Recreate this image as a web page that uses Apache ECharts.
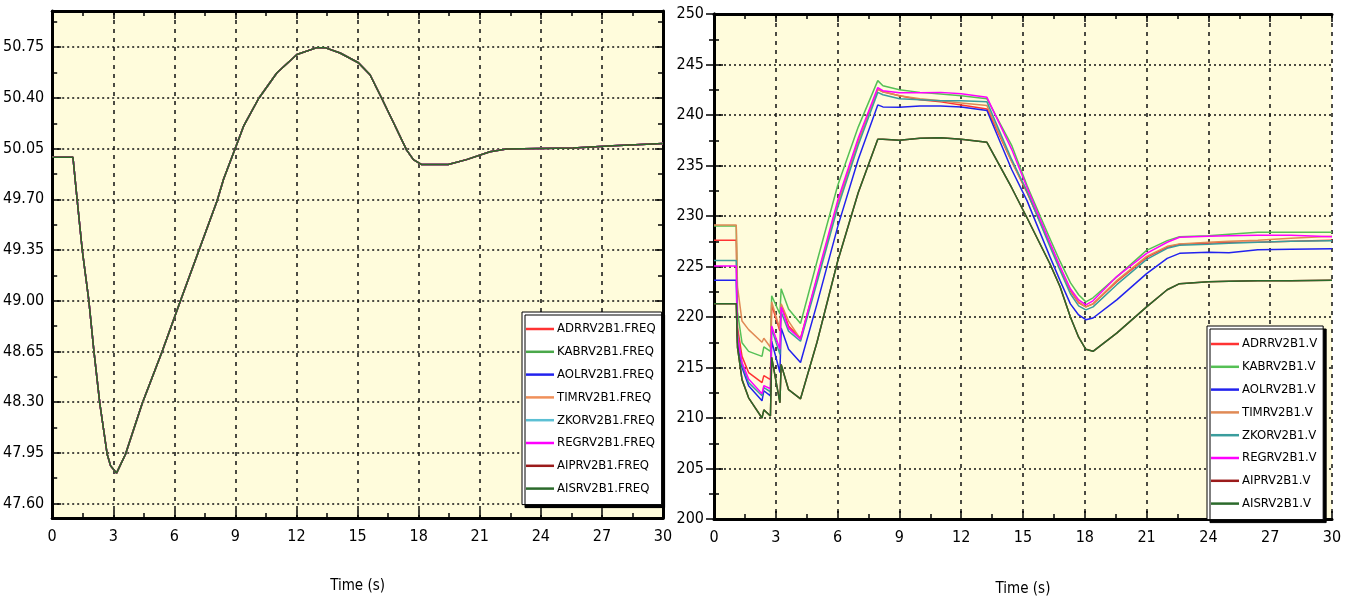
<!DOCTYPE html>
<html>
<head>
<meta charset="utf-8">
<script src="https://cdn.jsdelivr.net/npm/echarts@6/dist/echarts.min.js"></script>
<style>
html,body{margin:0;padding:0;background:#fff;}
#c{width:1349px;height:602px;}
</style>
</head>
<body>
<div id="c"></div>
<script>
// ---------- Data: left chart (frequency) ----------
var namesF = ['ADRRV2B1.FREQ','KABRV2B1.FREQ','AOLRV2B1.FREQ','TIMRV2B1.FREQ','ZKORV2B1.FREQ','REGRV2B1.FREQ','AIPRV2B1.FREQ','AISRV2B1.FREQ'];
var tF = [0, 1.02, 1.23, 1.48, 1.80, 2.05, 2.34, 2.70, 2.87, 3.16, 3.6, 4.42, 5.40, 6.30, 7.20, 8.10, 8.42, 8.96, 9.40, 10.14, 11.04, 12.02, 13.0, 13.4, 14.14, 15.04, 15.61, 16.19, 16.76, 17.41, 17.74, 18.15, 19.45, 20.35, 21.5, 22.3, 25.58, 27.54, 30];
var freq = [49.99, 49.99, 49.69, 49.345, 49.0, 48.65, 48.29, 47.94, 47.86, 47.81, 47.94, 48.29, 48.65, 49.0, 49.345, 49.69, 49.84, 50.04, 50.205, 50.396, 50.574, 50.70, 50.747, 50.747, 50.71, 50.643, 50.56, 50.396, 50.23, 50.04, 49.974, 49.94, 49.94, 49.974, 50.028, 50.048, 50.055, 50.07, 50.085];
var freqTicks = [47.60, 47.95, 48.30, 48.65, 49.00, 49.35, 49.70, 50.05, 50.40, 50.75];
var freqMinor = [47.775, 48.125, 48.475, 48.825, 49.175, 49.525, 49.875, 50.225, 50.575, 50.925];

// ---------- Data: right chart (voltage) ----------
var namesV = ['ADRRV2B1.V','KABRV2B1.V','AOLRV2B1.V','TIMRV2B1.V','ZKORV2B1.V','REGRV2B1.V','AIPRV2B1.V','AISRV2B1.V'];
var tV = [0, 1.08, 1.14, 1.36, 1.68, 2.33, 2.42, 2.74, 2.80, 3.20, 3.26, 3.62, 4.2, 5.0, 6.0, 7.0, 7.95, 8.2, 9.0, 10.0, 11.0, 12.0, 13.25, 14.45, 15.2, 16.3, 16.8, 17.3, 17.7, 18.05, 18.4, 19.55, 21.0, 22.0, 22.6, 24.0, 25.0, 26.4, 28.0, 30];
var adrV = [227.6, 227.6, 219.0, 216.1, 214.5, 213.5, 214.2, 213.8, 221.2, 218.6, 221.2, 219.1, 217.9, 223.8, 231.2, 237.4, 242.55, 242.3, 241.9, 241.5, 241.3, 241.0, 240.6, 235.4, 232.3, 227.2, 224.8, 222.6, 221.4, 221.0, 221.3, 223.5, 225.9, 226.9, 227.2, 227.3, 227.4, 227.4, 227.5, 227.6];
var kabV = [229.0, 229.0, 220.5, 217.45, 216.6, 216.1, 217.05, 216.6, 222.1, 220.3, 222.8, 220.8, 219.35, 225.5, 233.0, 238.8, 243.4, 242.9, 242.5, 242.24, 242.08, 241.9, 241.6, 237.0, 233.0, 227.8, 225.5, 223.4, 222.2, 221.5, 221.9, 223.97, 226.6, 227.56, 227.95, 228.05, 228.2, 228.38, 228.38, 228.38];
var aolV = [223.65, 223.65, 217.5, 215.0, 213.2, 211.7, 212.7, 212.2, 217.6, 214.5, 218.9, 216.8, 215.5, 221.3, 228.9, 235.6, 241.0, 240.8, 240.77, 240.9, 240.9, 240.8, 240.44, 234.6, 231.5, 226.0, 223.6, 221.3, 220.2, 219.73, 219.9, 221.7, 224.3, 225.8, 226.3, 226.4, 226.35, 226.65, 226.7, 226.75];
var timV = [229.1, 229.1, 223.0, 219.6, 218.75, 217.5, 217.9, 217.0, 221.5, 218.8, 221.3, 219.6, 217.8, 223.7, 231.1, 237.3, 242.56, 242.3, 241.9, 241.6, 241.4, 241.2, 240.93, 235.4, 232.5, 227.3, 224.9, 222.7, 221.5, 221.0, 221.3, 223.6, 226.0, 227.0, 227.24, 227.4, 227.5, 227.6, 227.8, 228.0];
var zkoV = [225.6, 225.6, 218.2, 215.3, 213.5, 212.2, 213.0, 212.6, 218.8, 216.3, 220.5, 218.6, 217.6, 223.4, 230.8, 237.0, 242.24, 242.0, 241.6, 241.5, 241.4, 241.4, 241.3, 235.6, 232.4, 227.0, 224.6, 222.3, 221.1, 220.7, 221.0, 223.2, 225.7, 226.8, 227.1, 227.2, 227.3, 227.4, 227.5, 227.56];
var regV = [225.05, 225.05, 218.0, 215.5, 213.85, 212.4, 213.2, 212.9, 219.1, 216.8, 221.0, 218.9, 217.8, 224.0, 231.5, 237.7, 242.72, 242.4, 242.2, 242.2, 242.24, 242.1, 241.75, 236.6, 232.8, 227.4, 225.0, 222.8, 221.7, 221.2, 221.6, 224.0, 226.3, 227.4, 227.9, 228.0, 228.05, 228.1, 228.1, 227.95];
var aipV = [221.3, 221.3, 217.0, 213.8, 212.0, 210.0, 210.8, 210.2, 216.0, 211.5, 215.3, 212.8, 211.9, 217.5, 225.5, 232.3, 237.6, 237.6, 237.5, 237.7, 237.75, 237.6, 237.3, 232.8, 229.8, 225.3, 223.0, 220.0, 218.0, 216.8, 216.6, 218.4, 221.0, 222.7, 223.3, 223.5, 223.55, 223.6, 223.6, 223.65];
var aisV = [221.3, 221.3, 217.0, 213.8, 212.0, 210.0, 210.8, 210.2, 216.0, 211.5, 215.3, 212.8, 211.9, 217.5, 225.5, 232.3, 237.6, 237.6, 237.5, 237.7, 237.75, 237.6, 237.3, 232.8, 229.8, 225.3, 223.0, 220.0, 218.0, 216.8, 216.6, 218.4, 221.0, 222.7, 223.3, 223.5, 223.55, 223.6, 223.6, 223.65];
var valsV = [adrV, kabV, aolV, timV, zkoV, regV, aipV, aisV];

var colorsF = ['#ff3333', '#4aa84a', '#2222ee', '#f0905a', '#5cc0d4', '#ff00ff', '#9b1b1b', '#2b6a2b'];
var colorsV = ['#ff3333', '#55c055', '#2222ee', '#e08a55', '#3a9d9d', '#ff00ff', '#9b1b1b', '#2b6a2b'];

var FONT = "'DejaVu Sans Condensed', 'Liberation Sans Narrow', sans-serif";
var BG = '#FFFCDC';

function pairs(ts, vs) { return ts.map(function (t, i) { return [t, vs[i]]; }); }

var txt = { fontFamily: FONT, fontSize: 16, color: '#000' };

function xAxes(gridIndex, nameGap) {
  return [{
    gridIndex: gridIndex, type: 'value', min: 0, max: 30, interval: 3, position: 'bottom',
    axisLine: { show: true, lineStyle: { color: '#000', width: 3 } },
    axisTick: { show: true, inside: true, length: 8, lineStyle: { color: '#000', width: 1.5 } },
    minorTick: { show: true, splitNumber: 2, length: 5, lineStyle: { color: '#000', width: 1.5 } },
    axisLabel: Object.assign({ margin: 11 }, txt),
    splitLine: { show: true, lineStyle: { color: '#111', width: 1.5, type: [4, 5] } },
    name: 'Time (s)', nameLocation: 'middle', nameGap: nameGap,
    nameTextStyle: { fontFamily: FONT, fontSize: 15, color: '#000' }
  }, {
    gridIndex: gridIndex, type: 'value', min: 0, max: 30, interval: 3, position: 'top',
    axisLine: { show: true, lineStyle: { color: '#000', width: 3 } },
    axisTick: { show: true, inside: true, length: 8, lineStyle: { color: '#000', width: 1.5 } },
    minorTick: { show: true, splitNumber: 2, length: 5, lineStyle: { color: '#000', width: 1.5 } },
    axisLabel: { show: false }, splitLine: { show: false }
  }];
}

function legendCfg(names, left, top, pad) {
  return {
    data: names, orient: 'vertical', left: left, top: top,
    backgroundColor: '#fff', borderColor: '#000', borderWidth: 1,
    shadowColor: '#000', shadowOffsetX: 3, shadowOffsetY: 3, shadowBlur: 0.01,
    padding: pad, itemGap: 8.8, itemWidth: 28, itemHeight: 2.5, icon: 'rect', selectedMode: false,
    textStyle: { fontFamily: FONT, fontSize: 13, color: '#000', lineHeight: 14, padding: [0, 0, 0, -2] }
  };
}

var option = {
  animation: false,
  backgroundColor: '#fff',
  grid: [
    { left: 51, top: 11, width: 612, height: 507, show: true, backgroundColor: BG, borderWidth: 0 },
    { left: 714, top: 14, width: 618, height: 511, show: true, backgroundColor: BG, borderWidth: 0 }
  ],
  xAxis: xAxes(0, 61).concat(xAxes(1, 63)),
  yAxis: [
    { // left chart, left major
      gridIndex: 0, type: 'value', min: 47.5, max: 51.0, position: 'left',
      axisLine: { show: true, lineStyle: { color: '#000', width: 3 } },
      axisTick: { show: true, inside: true, length: 9, customValues: freqTicks, lineStyle: { color: '#000', width: 1.5 } },
      axisLabel: Object.assign({ margin: 8, customValues: freqTicks, formatter: function (v) { return v.toFixed(2); } }, txt),
      splitLine: { show: true, lineStyle: { color: '#111', width: 1.5, type: [2, 3] } }
    },
    { // left chart, left minor
      gridIndex: 0, type: 'value', min: 47.5, max: 51.0, position: 'left',
      axisLine: { show: false },
      axisTick: { show: true, inside: true, length: 5, customValues: freqMinor, lineStyle: { color: '#000', width: 1.5 } },
      axisLabel: { show: false }, splitLine: { show: false }
    },
    { // left chart, right major
      gridIndex: 0, type: 'value', min: 47.5, max: 51.0, position: 'right',
      axisLine: { show: true, lineStyle: { color: '#000', width: 3 } },
      axisTick: { show: true, inside: true, length: 8, customValues: freqTicks, lineStyle: { color: '#000', width: 1.5 } },
      axisLabel: { show: false }, splitLine: { show: false }
    },
    { // left chart, right minor
      gridIndex: 0, type: 'value', min: 47.5, max: 51.0, position: 'right',
      axisLine: { show: false },
      axisTick: { show: true, inside: true, length: 5, customValues: freqMinor, lineStyle: { color: '#000', width: 1.5 } },
      axisLabel: { show: false }, splitLine: { show: false }
    },
    { // right chart, left
      gridIndex: 1, type: 'value', min: 200, max: 250, interval: 5, position: 'left',
      axisLine: { show: true, lineStyle: { color: '#000', width: 3 } },
      axisTick: { show: true, inside: true, length: 9, lineStyle: { color: '#000', width: 1.5 } },
      minorTick: { show: true, splitNumber: 2, length: 5, lineStyle: { color: '#000', width: 1.5 } },
      axisLabel: Object.assign({ margin: 10 }, txt),
      splitLine: { show: true, lineStyle: { color: '#111', width: 1.5, type: [2, 3] } }
    },
    { // right chart, right
      gridIndex: 1, type: 'value', min: 200, max: 250, interval: 5, position: 'right',
      axisLine: { show: true, lineStyle: { color: '#000', width: 3 } },
      axisTick: { show: true, inside: true, length: 8, lineStyle: { color: '#000', width: 1.5 } },
      minorTick: { show: true, splitNumber: 2, length: 5, lineStyle: { color: '#000', width: 1.5 } },
      axisLabel: { show: false }, splitLine: { show: false }
    }
  ],
  legend: [
    legendCfg(namesF, 522, 312, [10, 6, 9, 4]),
    legendCfg(namesV, 1207, 326, [11, 6, 9, 4])
  ],
  series: []
};

namesF.forEach(function (n, i) {
  option.series.push({
    name: n, type: 'line', xAxisIndex: 0, yAxisIndex: 0, symbol: 'none',
    data: pairs(tF, freq), color: colorsF[i],
    lineStyle: { width: 1.5, color: colorsF[i] }
  });
});
namesV.forEach(function (n, i) {
  option.series.push({
    name: n, type: 'line', xAxisIndex: 2, yAxisIndex: 4, symbol: 'none',
    data: pairs(tV, valsV[i]), color: colorsV[i],
    lineStyle: { width: 1.5, color: colorsV[i] }
  });
});

var chart = echarts.init(document.getElementById('c'), null, { renderer: 'canvas' });
chart.setOption(option);
</script>
</body>
</html>
